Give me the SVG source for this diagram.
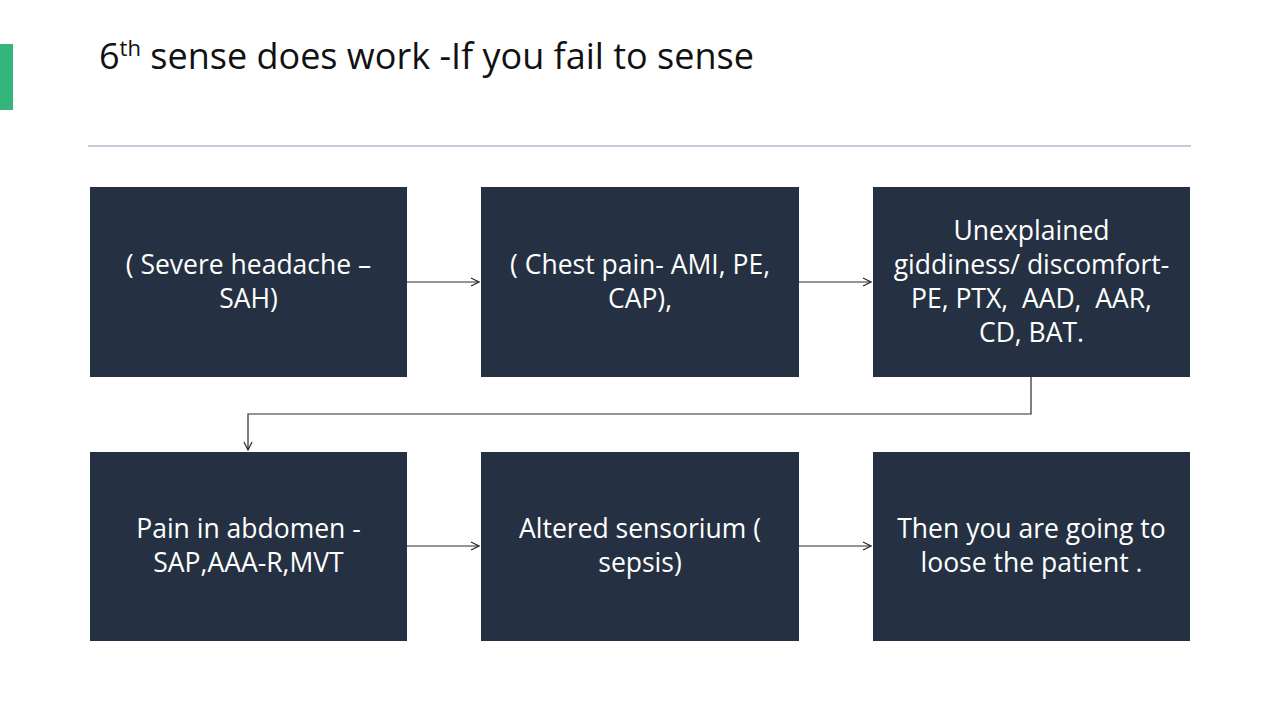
<svg xmlns="http://www.w3.org/2000/svg" width="1280" height="720" viewBox="0 0 1280 720">
<style>
.box{fill:#253142}
.t{font-family:"Open Sans","Liberation Sans",sans-serif;font-size:26.5px;fill:#ffffff;text-anchor:middle;white-space:pre}
.c{fill:none;stroke:#2b2b2b;stroke-width:1.2}
</style>
<defs>
<marker id="a" viewBox="0 0 10 10" refX="9" refY="5" markerWidth="10" markerHeight="10" markerUnits="userSpaceOnUse" orient="auto">
<path d="M1,1 L9,5 L1,9" fill="none" stroke="#2b2b2b" stroke-width="1.2"/>
</marker>
</defs>
<rect width="1280" height="720" fill="#ffffff"/>
<rect x="0" y="44" width="13" height="66" fill="#33b57c"/>
<text x="99" y="69" font-family="Open Sans,Liberation Sans,sans-serif" font-size="36" fill="#111111">6<tspan font-size="22" dy="-13">th</tspan><tspan dy="13"> sense does work -If you fail to sense</tspan></text>
<line x1="88" y1="146" x2="1191" y2="146" stroke="#c3cbd6" stroke-width="2"/>
<g id="connectors">
<line class="c" x1="407" y1="282" x2="479" y2="282" marker-end="url(#a)"/>
<line class="c" x1="799" y1="282" x2="871" y2="282" marker-end="url(#a)"/>
<polyline class="c" points="1031,377 1031,414 248,414 248,450" marker-end="url(#a)"/>
<line class="c" x1="407" y1="546" x2="479" y2="546" marker-end="url(#a)"/>
<line class="c" x1="799" y1="546" x2="871" y2="546" marker-end="url(#a)"/>
</g>
<g id="n1"><rect class="box" x="90" y="187" width="317" height="190"/>
<text class="t" x="248.5" y="274">( Severe headache –</text><text class="t" x="248.5" y="308">SAH)</text></g>
<g id="n2"><rect class="box" x="481" y="187" width="318" height="190"/>
<text class="t" x="640" y="274">( Chest pain- AMI, PE,</text><text class="t" x="640" y="308">CAP),</text></g>
<g id="n3"><rect class="box" x="873" y="187" width="317" height="190"/>
<text class="t" x="1031.5" y="240">Unexplained</text><text class="t" x="1031.5" y="274">giddiness/ discomfort-</text><text class="t" x="1031.5" y="308" xml:space="preserve">PE, PTX,  AAD,  AAR,</text><text class="t" x="1031.5" y="342">CD, BAT.</text></g>
<g id="n4"><rect class="box" x="90" y="452" width="317" height="189"/>
<text class="t" x="248.5" y="538">Pain in abdomen -</text><text class="t" x="248.5" y="572">SAP,AAA-R,MVT</text></g>
<g id="n5"><rect class="box" x="481" y="452" width="318" height="189"/>
<text class="t" x="640" y="538">Altered sensorium (</text><text class="t" x="640" y="572">sepsis)</text></g>
<g id="n6"><rect class="box" x="873" y="452" width="317" height="189"/>
<text class="t" x="1031.5" y="538">Then you are going to</text><text class="t" x="1031.5" y="572">loose the patient .</text></g>
</svg>
